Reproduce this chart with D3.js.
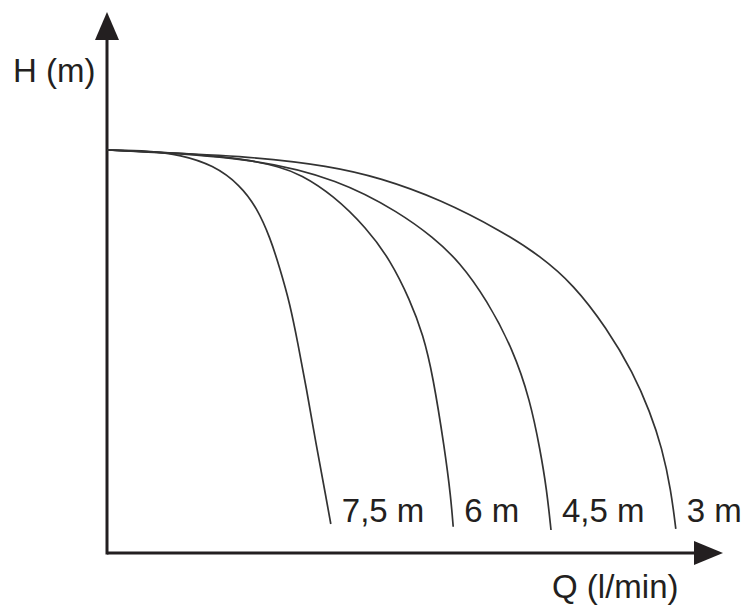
<!DOCTYPE html>
<html>
<head>
<meta charset="utf-8">
<script src="https://cdn.jsdelivr.net/npm/d3@7"></script>
<style>
  body { margin: 0; background: #fff; }
  text { font-family: "Liberation Sans", Arial, sans-serif; fill: #231f20; }
</style>
</head>
<body>
<div id="chart"></div>
<script>
// pump curves, Q (l/min) vs H (m), arbitrary units
const curveLabels = ["7,5 m", "6 m", "4,5 m", "3 m"];

const curve75 = [
    [0, 10], [7.2, 9.98], [12.2, 9.88], [17.7, 9.63], [22.2, 9.13], [25, 8.56],
    [27.2, 7.82], [28.8, 7.07], [30.5, 6.18], [31.8, 5.21], [33.2, 4.12],
    [34.8, 2.73], [36.5, 1.39], [37.3, 0.72]
];
const curve6 = [
    [0, 10], [15.5, 9.9], [23.8, 9.75], [28.8, 9.58], [32.2, 9.4], [37.7, 8.88],
    [43.3, 8.06], [47.2, 7.27], [50.5, 6.28], [52.7, 5.41], [54.3, 4.42],
    [56.3, 2.56], [57.3, 1.39], [57.7, 0.65]
];
const curve45 = [
    [0, 10], [23.8, 9.83], [38.8, 9.26], [48.8, 8.44], [54.3, 7.84], [58.8, 7.22],
    [63.3, 6.28], [67.7, 5.04], [70.5, 3.8], [72.2, 2.56], [73.3, 1.56], [74, 0.57]
];
const curve3 = [
    [0, 10], [23.8, 9.85], [37.2, 9.6], [45.5, 9.31], [55.5, 8.78], [66, 7.97],
    [72.2, 7.37], [77.7, 6.67], [83.3, 5.58], [87.7, 4.47], [90.5, 3.5],
    [92.5, 2.61], [94, 1.56], [94.8, 0.6]
];
const curves = [curve75, curve6, curve45, curve3];

const width = 747;
const height = 605;

const svg = d3.select("#chart")
    .append("svg")
    .attr("width", width)
    .attr("height", height);

const xScale = d3.scaleLinear()
    .domain([0, 100])
    .range([107, 707]);

const yScale = d3.scaleLinear()
    .domain([0, 10])
    .range([553, 150]);

const axisColor = "#231f20";
const xTip = 723;
const yTip = 12;

// axes
svg.append("line")
    .attr("x1", xScale(0))
    .attr("x2", xTip - 20)
    .attr("y1", yScale(0))
    .attr("y2", yScale(0))
    .attr("stroke", axisColor)
    .attr("stroke-width", 3);

svg.append("line")
    .attr("x1", xScale(0))
    .attr("x2", xScale(0))
    .attr("y1", yScale(0) + 1.5)
    .attr("y2", yTip + 20)
    .attr("stroke", axisColor)
    .attr("stroke-width", 3);

// arrow heads
svg.append("path")
    .attr("d", `M${xTip},${yScale(0)} L${xTip - 29},${yScale(0) - 12} L${xTip - 29},${yScale(0) + 12} Z`)
    .attr("fill", axisColor);

svg.append("path")
    .attr("d", `M${xScale(0)},${yTip} L${xScale(0) - 12},${yTip + 28} L${xScale(0) + 12},${yTip + 28} Z`)
    .attr("fill", axisColor);

// b-spline smooths out the reading noise
const lineGenerator = d3.line()
    .x(d => xScale(d[0]))
    .y(d => yScale(d[1]))
    .curve(d3.curveBasis);

svg.selectAll(".pump-curve")
    .data(curves)
    .join("path")
    .attr("class", "pump-curve")
    .attr("d", d => lineGenerator(d))
    .attr("fill", "none")
    .attr("stroke", "#333")
    .attr("stroke-width", 1.7);

svg.selectAll(".curve-label")
    .data(curves)
    .join("text")
    .attr("class", "curve-label")
    .attr("x", d => xScale(d[d.length - 1][0]) + 11)
    .attr("y", 522)
    .attr("font-size", 33)
    .text((d, i) => curveLabels[i]);

svg.append("text")
    .attr("x", 13)
    .attr("y", 82)
    .attr("font-size", 33)
    .text("H (m)");

svg.append("text")
    .attr("x", 552)
    .attr("y", 598)
    .attr("font-size", 33)
    .text("Q (l/min)");
</script>
</body>
</html>
